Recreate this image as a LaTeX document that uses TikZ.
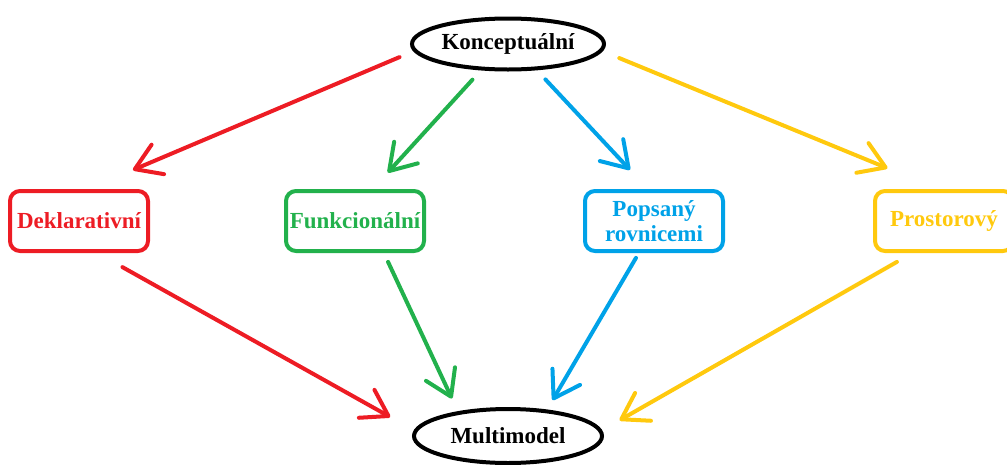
\documentclass[tikz,border=0pt]{standalone}
\usepackage{fontspec}
\setmainfont{Liberation Serif}
\usetikzlibrary{arrows.meta,shapes.geometric}
\definecolor{Ink}{HTML}{000000}
\definecolor{Red}{HTML}{ED1C24}
\definecolor{Green}{HTML}{22B14C}
\definecolor{Blue}{HTML}{00A2E8}
\definecolor{Gold}{HTML}{FFC90E}
\tikzset{
  oval/.style={ellipse,draw=Ink,line width=4pt,minimum width=192pt,minimum height=51pt,inner sep=0pt,outer sep=0pt,text=Ink,font=\fontsize{23}{26}\selectfont\bfseries},
  flow/.style={rectangle,line width=4pt,rounded corners=10pt,minimum width=138pt,minimum height=60pt,align=center,inner sep=0pt,outer sep=0pt,font=\fontsize{23}{25}\selectfont\bfseries},
  flowred/.style={flow,draw=Red,text=Red},
  flowgreen/.style={flow,draw=Green,text=Green},
  flowblue/.style={flow,draw=Blue,text=Blue},
  flowgold/.style={flow,draw=Gold,text=Gold},
  arrow/.style={-{Straight Barb[round,length=25pt,width=32pt]},line width=4pt,line cap=round}
}
\begin{document}
\begin{tikzpicture}[x=1pt,y=-1pt]
\useasboundingbox (0,0) rectangle (1007,464);
% modely
\node[oval] (konc) at (508,44) {Konceptuální};
\node[flowred] (dekl) at (79,221) {Deklarativní};
\node[flowgreen] (funk) at (355,221) {Funkcionální};
\node[flowblue] (pops) at (654,221) {Popsaný\\rovnicemi};
\node[flowgold] (pros) at (944,221) {Prostorový};
\node[oval,minimum width=188pt,minimum height=54pt] (multi) at (508,436) {Multimodel};
% shora dolu
\draw[arrow,draw=Red,shorten <=17pt,shorten >=54pt] (konc.184) -- (dekl.82);
\draw[arrow,draw=Green,shorten <=15pt,shorten >=25pt] (konc.224) -- (funk.62);
\draw[arrow,draw=Blue,shorten <=15pt,shorten >=29pt] (konc.318) -- (pops.98);
\draw[arrow,draw=Gold,shorten <=20pt,shorten >=60pt] (konc.356) -- (pros.92);
% do multimodelu
\draw[arrow,draw=Red,shorten <=33pt,shorten >=29pt] (dekl.296) -- (multi.177);
\draw[arrow,draw=Green,shorten <=12pt,shorten >=16pt] (funk.313) -- (multi.155);
\draw[arrow,draw=Blue,shorten <=8pt,shorten >=13pt] (pops.245) -- (multi.33);
\draw[arrow,draw=Gold,shorten <=22pt,shorten >=22pt] (pros.227) -- (multi.3);
\end{tikzpicture}
\end{document}
